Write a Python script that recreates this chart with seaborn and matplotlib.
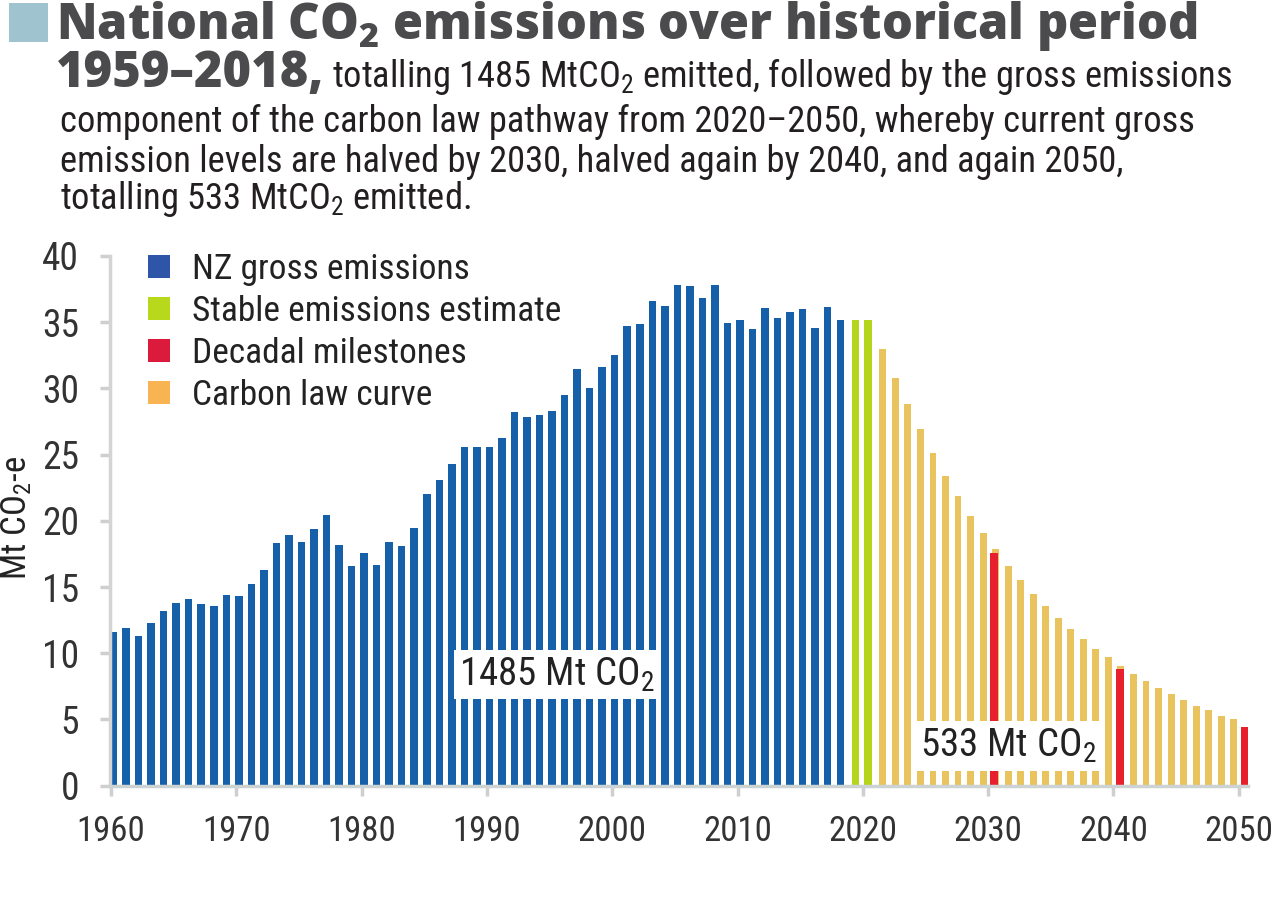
import matplotlib
matplotlib.use("Agg")
import matplotlib.pyplot as plt
from matplotlib import font_manager as fm
from matplotlib.patches import Patch, Rectangle
import numpy as np
import pandas as pd
import seaborn as sns

# ---------------- data ----------------
hist_years = list(range(1960, 2019))
hist_values = [11.6, 11.9, 11.3, 12.3, 13.2, 13.8, 14.1, 13.75, 13.6, 14.4,
               14.3, 15.2, 16.3, 18.3, 18.9, 18.4, 19.4, 20.45, 18.15, 16.6,
               17.6, 16.7, 18.4, 18.1, 19.45, 22.0, 23.05, 24.3, 25.6, 25.6,
               25.6, 26.25, 28.25, 27.85, 28.0, 28.3, 29.5, 31.45, 30.05, 31.65,
               32.5, 34.7, 34.9, 36.6, 36.2, 37.8, 37.7, 36.8, 37.8, 34.95,
               35.15, 34.45, 36.1, 35.35, 35.75, 36.0, 34.6, 36.15, 35.2]
stable_years = [2019, 2020]
stable_values = [35.2, 35.2]
law_years = list(range(2021, 2050))
law_values = [33.0, 30.8, 28.8, 26.9, 25.1, 23.4, 21.9, 20.4, 19.1, 17.85,
              16.6, 15.5, 14.5, 13.6, 12.7, 11.8, 11.1, 10.3, 9.7, 9.05,
              8.4, 7.9, 7.4, 6.9, 6.5, 6.0, 5.7, 5.3, 5.0]
mile_years = [2030, 2040, 2050]
mile_values = [17.6, 8.8, 4.4]

legend_labels = ["NZ gross emissions", "Stable emissions estimate",
                 "Decadal milestones", "Carbon law curve"]
x_ticks = [1960, 1970, 1980, 1990, 2000, 2010, 2020, 2030, 2040, 2050]
y_ticks = [0, 5, 10, 15, 20, 25, 30, 35, 40]

title_line1 = r"National CO$_2$ emissions over historical period"
title_bold2 = "1959–2018,"
sub_line2 = r"totalling 1485 MtCO$_2$ emitted, followed by the gross emissions"
sub_line3 = "component of the carbon law pathway from 2020–2050, whereby current gross"
sub_line4 = "emission levels are halved by 2030, halved again by 2040, and again 2050,"
sub_line5 = r"totalling 533 MtCO$_2$ emitted."
label_hist = r"1485 Mt CO$_2$"
label_law = r"533 Mt CO$_2$"
y_label = r"Mt CO$_2$-e"

# ---------------- fonts ----------------
names = {f.name for f in fm.fontManager.ttflist}
sns.set_theme(style="white")
if "Liberation Sans Narrow" in names:
    REG = dict(family="Liberation Sans Narrow")
elif "Roboto Condensed" in names:
    REG = dict(family="Roboto Condensed")
else:
    REG = dict(family="DejaVu Sans", stretch="condensed")
if "Open Sans" in names:
    BOLDFAM, BOLDW = "Open Sans", 800
else:
    BOLDFAM, BOLDW = "DejaVu Sans", "bold"

plt.rcParams["font.family"] = [REG["family"], "DejaVu Sans"]
if "stretch" in REG:
    plt.rcParams["font.stretch"] = REG["stretch"]
plt.rcParams["mathtext.fontset"] = "custom"
plt.rcParams["mathtext.default"] = "regular"
plt.rcParams["mathtext.rm"] = REG["family"]

W, H = 1281, 922
fig = plt.figure(figsize=(W / 100, H / 100), dpi=100)
fig.patch.set_facecolor("white")

# axes placement (pixels)
ax_left, ax_right, ax_top, ax_bot = 109.5, 1248, 256, 785.7
ax = fig.add_axes([ax_left / W, 1 - ax_bot / H, (ax_right - ax_left) / W, (ax_bot - ax_top) / H])

BLUE = "#1560a8"
GREEN = "#b5d51c"
YELLOW = "#e8c35e"
RED = "#e8202e"

df_hist = pd.DataFrame({"x": np.array(hist_years) + 0.2, "v": hist_values})
df_stab = pd.DataFrame({"x": np.array(stable_years) + 0.4, "v": stable_values})
df_law = pd.DataFrame({"x": np.array(law_years) + 0.6, "v": law_values})
df_mile = pd.DataFrame({"x": np.array(mile_years) + 0.5, "v": mile_values})

sns.barplot(data=df_hist, x="x", y="v", native_scale=True, color=BLUE,
            saturation=1, width=0.6, errorbar=None, ax=ax, linewidth=0)
sns.barplot(data=df_stab, x="x", y="v", native_scale=True, color=GREEN,
            saturation=1, width=0.6, errorbar=None, ax=ax, linewidth=0)
sns.barplot(data=df_law, x="x", y="v", native_scale=True, color=YELLOW,
            saturation=1, width=0.55, errorbar=None, ax=ax, linewidth=0)
sns.barplot(data=df_mile, x="x", y="v", native_scale=True, color=RED,
            saturation=1, width=0.065, errorbar=None, ax=ax, linewidth=0)

ax.set_xlim(1959.88, 2050.74)
ax.set_ylim(0, 40)
ax.set_xticks(x_ticks)
ax.set_xticklabels([str(t) for t in x_ticks])
ax.set_yticks(y_ticks)
ax.set_yticklabels([str(t) for t in y_ticks])
ax.set_xlabel("")
ax.set_ylabel("")
for s in ["top", "right"]:
    ax.spines[s].set_visible(False)
ax.spines["left"].set_color("#d4d4d4")
ax.spines["left"].set_linewidth(2.5)
ax.spines["bottom"].set_color("#cdd3d3")
ax.spines["bottom"].set_linewidth(2.5)
ax.tick_params(axis="both", which="both", direction="out", length=7, width=2.5,
               color="#cfcfcf", labelcolor="#333333")
ax.tick_params(axis="y", labelsize=27, pad=15, left=True)
ax.tick_params(axis="x", labelsize=25, pad=14, bottom=True)
ax.set_facecolor("white")
ax.grid(False)

fig.text(17 / W, 1 - 518 / H, y_label, rotation=90, fontsize=25,
         color="#222222", ha="center", va="center")

# value labels in white boxes
ax.text(1995.6, 8.4, label_hist, fontsize=28, color="#222222", ha="center",
        va="center", zorder=5,
        bbox=dict(boxstyle="square,pad=0.14", facecolor="white", edgecolor="none"))
ax.text(2031.6, 3.0, label_law, fontsize=28, color="#222222", ha="center",
        va="center", zorder=5,
        bbox=dict(boxstyle="square,pad=0.14", facecolor="white", edgecolor="none"))

# legend
handles = [Patch(facecolor="#2f55a8", edgecolor="none"),
           Patch(facecolor="#b8d81c", edgecolor="none"),
           Patch(facecolor="#dc1a3c", edgecolor="none"),
           Patch(facecolor="#f8b352", edgecolor="none")]
leg = ax.legend(handles, legend_labels, loc="upper left",
                bbox_to_anchor=((148 - ax_left) / (ax_right - ax_left), 1.005),
                frameon=False, fontsize=25.5, handlelength=0.63, handleheight=0.63,
                handletextpad=0.6, labelspacing=0.25, borderpad=0, borderaxespad=0)
for t in leg.get_texts():
    t.set_color("#222222")

# ---------------- title block ----------------
fig.patches.append(Rectangle((9 / W, 1 - 42 / H), 39 / W, 39 / H,
                             transform=fig.transFigure, facecolor="#9fc3cf",
                             edgecolor="none"))
renderer = fig.canvas.get_renderer()
TITLE_C = "#4b4a4c"
TEXT_C = "#231f20"


def put(x, base, s, size, **kw):
    return fig.text(x / W, 1 - base / H, s, fontsize=size, ha="left",
                    va="baseline", **kw)


def fit(t, target, cap=None):
    w = t.get_window_extent(renderer).width
    new = t.get_fontsize() * target / w
    if cap is not None:
        new = min(new, cap)
    t.set_fontsize(new)
    return t


t1 = put(56, 39, title_line1, 36, color=TITLE_C, family=BOLDFAM, weight=BOLDW)
fit(t1, 1197 - 56, cap=37)
tb = put(56, 87, title_bold2, t1.get_fontsize(), color=TITLE_C, family=BOLDFAM,
         weight=BOLDW)
bx = tb.get_window_extent(renderer).x1

t3 = put(60, 132, sub_line3, 26, color=TEXT_C)
fit(t3, 1195 - 60)
fs = t3.get_fontsize()
t2 = put(bx + 8, 87, sub_line2, fs, color=TEXT_C)
t4 = put(60, 172, sub_line4, fs, color=TEXT_C)
t5 = put(60, 209, sub_line5, fs, color=TEXT_C)

fig.savefig("out.png", dpi=100, facecolor="white")
